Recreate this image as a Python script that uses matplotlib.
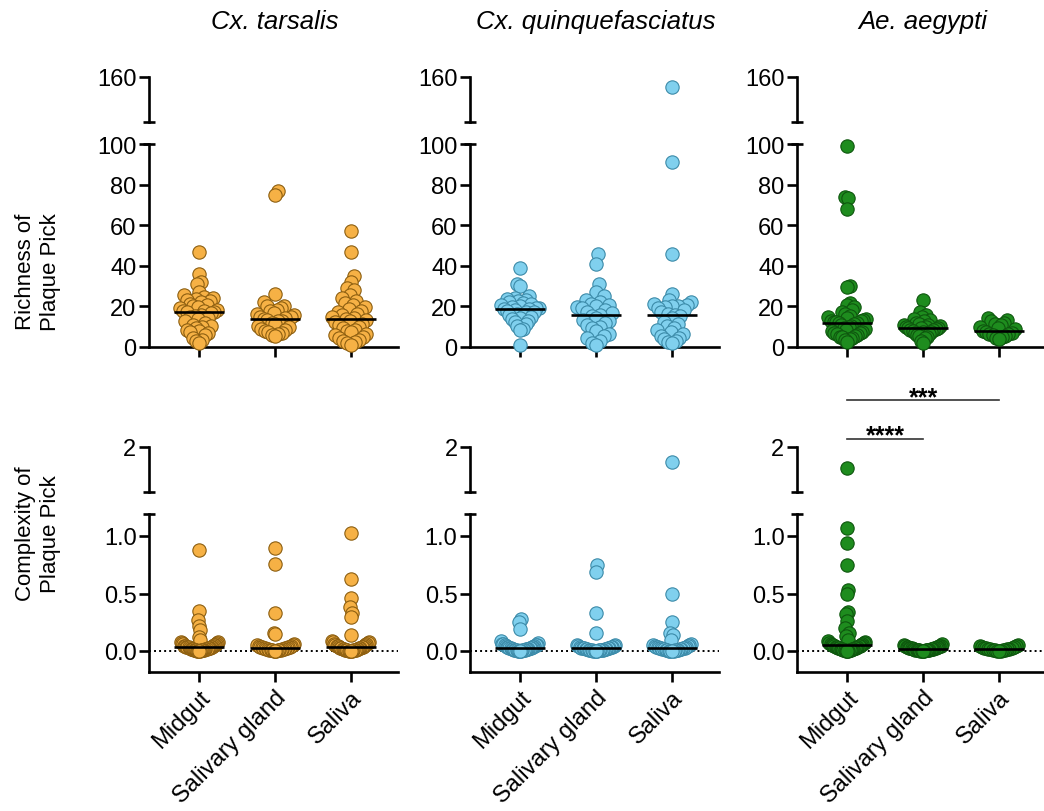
import numpy as np
import matplotlib
matplotlib.use('Agg')
import matplotlib.pyplot as plt
from matplotlib.transforms import blended_transform_factory

plt.rcParams['font.family'] = ['Liberation Sans', 'DejaVu Sans']

categories = ['Midgut', 'Salivary gland', 'Saliva']
species = ['Cx. tarsalis', 'Cx. quinquefasciatus', 'Ae. aegypti']
fill_colors = ['#F6B145', '#80D0EE', '#1E8C1E']
edge_colors = ['#8C5E10', '#3B8AA8', '#0E560E']

# ---------------- data ----------------
tarsalis_midgut_rich = [47.0, 36.0, 31.9, 30.8, 27.0, 25.5, 24.6, 24.0, 23.5, 23.0, 22.6, 22.0, 21.2, 20.5,
                        20.1, 19.6, 19.0, 18.4, 17.8, 17.5, 17.2, 17.0, 16.6, 16.0, 15.4, 14.8, 14.1, 13.6,
                        12.8, 12.0, 11.0, 10.2, 9.8, 9.2, 8.3, 7.9, 7.5, 6.8, 5.8, 4.6, 3.4, 2.9, 2.0]
tarsalis_sg_rich = [77.0, 75.0, 26.0, 22.0, 20.3, 20.0, 19.0, 18.2, 17.5, 16.8, 16.1, 15.6, 15.0, 14.8, 14.5,
                    14.0, 13.4, 13.0, 12.6, 12.0, 11.2, 10.5, 9.8, 9.0, 8.4, 8.0, 7.6, 7.0, 6.4, 5.9, 5.2]
tarsalis_saliva_rich = [57.0, 47.0, 35.0, 32.0, 29.0, 28.0, 25.5, 24.0, 22.5, 21.5, 20.5, 19.5, 18.6, 17.8,
                        17.0, 16.3, 15.6, 15.0, 14.5, 14.0, 13.5, 12.9, 12.2, 11.5, 10.8, 10.0, 9.3, 8.6, 7.9,
                        7.2, 6.5, 5.8, 5.0, 4.3, 3.6, 3.0, 2.4, 1.8, 1.2]
quinq_midgut_rich = [39.0, 31.0, 30.0, 25.0, 24.3, 23.8, 23.2, 22.6, 22.0, 21.5, 21.0, 20.5, 20.1, 19.7, 19.3,
                     19.0, 18.8, 18.5, 18.2, 17.8, 17.4, 17.0, 16.5, 16.0, 15.5, 14.8, 14.2, 13.6, 13.0, 12.2,
                     11.3, 10.2, 9.0, 8.2, 1.0]
quinq_sg_rich = [46.0, 41.0, 31.0, 27.0, 25.0, 23.0, 22.0, 21.3, 20.8, 20.3, 19.7, 19.0, 18.2, 17.4, 16.6,
                 16.0, 15.2, 14.4, 13.5, 12.6, 11.7, 10.8, 10.0, 9.2, 8.0, 6.5, 5.5, 4.2, 3.0, 2.0, 1.0]
quinq_saliva_rich = [155.0, 91.0, 46.0, 26.0, 23.0, 22.0, 21.3, 20.8, 20.3, 20.0, 19.6, 19.0, 18.0, 17.2, 16.5,
                     16.0, 15.3, 14.2, 12.5, 11.2, 10.3, 9.6, 8.2, 7.3, 6.2, 5.4, 4.6, 3.8, 3.0, 2.4, 1.8]
aegypti_midgut_rich = [99.0, 74.0, 73.5, 68.0, 30.2, 29.8, 21.5, 20.5, 19.5, 18.2, 17.0, 16.2, 15.4, 14.8, 14.2,
                       13.8, 13.4, 13.0, 12.7, 12.4, 12.2, 12.0, 11.6, 11.2, 10.7, 10.2, 9.7, 9.2, 8.7, 8.3,
                       7.9, 7.5, 7.1, 6.7, 6.3, 5.9, 5.5, 5.1, 4.7, 4.3, 3.8, 3.3, 2.6]
aegypti_sg_rich = [23.0, 17.0, 16.0, 15.0, 14.0, 13.3, 12.6, 12.0, 11.5, 11.0, 10.6, 10.3, 10.0, 9.8, 9.6, 9.5,
                   9.2, 8.9, 8.6, 8.3, 8.0, 7.6, 7.2, 6.8, 6.4, 6.0, 5.5, 5.0, 4.2, 3.0, 1.8]
aegypti_saliva_rich = [14.2, 13.3, 12.8, 12.0, 11.5, 10.8, 10.0, 9.4, 8.7, 8.0, 7.4, 7.0, 6.6, 6.2, 5.8, 5.4,
                       5.0, 4.5, 4.0]

tarsalis_midgut_comp = [0.88, 0.35, 0.27, 0.22, 0.18, 0.12, 0.095, 0.082, 0.078, 0.071, 0.066, 0.064, 0.058,
                        0.052, 0.051, 0.047, 0.044, 0.041, 0.039, 0.037, 0.034, 0.033, 0.031, 0.028, 0.027,
                        0.025, 0.022, 0.021, 0.019, 0.017, 0.016, 0.014, 0.013, 0.011, 0.010, 0.008, 0.007,
                        0.006, 0.005, 0.004, 0.003, 0.002, 0.001]
tarsalis_sg_comp = [0.90, 0.76, 0.33, 0.16, 0.15, 0.062, 0.055, 0.049, 0.046, 0.042, 0.039, 0.036, 0.033,
                    0.031, 0.028, 0.026, 0.024, 0.022, 0.020, 0.018, 0.016, 0.015, 0.013, 0.011, 0.010, 0.008,
                    0.006, 0.005, 0.003, 0.002, 0.001]
tarsalis_saliva_comp = [1.03, 0.63, 0.46, 0.38, 0.33, 0.30, 0.14, 0.09, 0.081, 0.074, 0.068, 0.063, 0.059,
                        0.054, 0.050, 0.047, 0.044, 0.041, 0.038, 0.035, 0.032, 0.030, 0.027, 0.025, 0.023,
                        0.021, 0.019, 0.017, 0.015, 0.013, 0.011, 0.009, 0.008, 0.006, 0.005, 0.004, 0.003,
                        0.002, 0.001]
quinq_midgut_comp = [0.28, 0.25, 0.19, 0.083, 0.072, 0.064, 0.060, 0.055, 0.051, 0.048, 0.044, 0.042, 0.039,
                     0.036, 0.034, 0.031, 0.029, 0.027, 0.025, 0.023, 0.021, 0.019, 0.017, 0.015, 0.014, 0.012,
                     0.010, 0.009, 0.007, 0.006, 0.005, 0.004, 0.003, 0.002, 0.001]
quinq_sg_comp = [0.75, 0.69, 0.33, 0.16, 0.055, 0.050, 0.045, 0.042, 0.038, 0.035, 0.032, 0.030, 0.028, 0.026,
                 0.024, 0.022, 0.020, 0.018, 0.016, 0.015, 0.013, 0.012, 0.010, 0.009, 0.007, 0.006, 0.005,
                 0.004, 0.003, 0.002, 0.001]
quinq_saliva_comp = [1.87, 0.50, 0.25, 0.16, 0.14, 0.10, 0.062, 0.054, 0.049, 0.045, 0.041, 0.037, 0.034,
                     0.031, 0.029, 0.026, 0.024, 0.022, 0.020, 0.018, 0.016, 0.014, 0.012, 0.011, 0.009, 0.007,
                     0.006, 0.004, 0.003, 0.002, 0.001]
aegypti_midgut_comp = [1.82, 1.07, 0.94, 0.75, 0.53, 0.50, 0.34, 0.32, 0.26, 0.20, 0.16, 0.13, 0.10, 0.085,
                       0.079, 0.073, 0.068, 0.064, 0.060, 0.056, 0.052, 0.049, 0.046, 0.043, 0.040, 0.037,
                       0.035, 0.032, 0.030, 0.027, 0.025, 0.022, 0.020, 0.018, 0.016, 0.014, 0.012, 0.010,
                       0.008, 0.006, 0.004, 0.002, 0.001]
aegypti_sg_comp = [0.060, 0.052, 0.047, 0.043, 0.040, 0.037, 0.035, 0.033, 0.031, 0.029, 0.027, 0.025, 0.023,
                   0.022, 0.020, 0.019, 0.017, 0.016, 0.014, 0.013, 0.012, 0.010, 0.009, 0.008, 0.007, 0.006,
                   0.005, 0.004, 0.003, 0.002, 0.001]
aegypti_saliva_comp = [0.052, 0.045, 0.040, 0.036, 0.032, 0.029, 0.026, 0.023, 0.020, 0.018, 0.016, 0.014,
                       0.012, 0.010, 0.008, 0.006, 0.004, 0.003, 0.001]

richness = [[tarsalis_midgut_rich, tarsalis_sg_rich, tarsalis_saliva_rich],
            [quinq_midgut_rich, quinq_sg_rich, quinq_saliva_rich],
            [aegypti_midgut_rich, aegypti_sg_rich, aegypti_saliva_rich]]
complexity = [[tarsalis_midgut_comp, tarsalis_sg_comp, tarsalis_saliva_comp],
              [quinq_midgut_comp, quinq_sg_comp, quinq_saliva_comp],
              [aegypti_midgut_comp, aegypti_sg_comp, aegypti_saliva_comp]]
row_labels = ['Richness of\nPlaque Pick', 'Complexity of\nPlaque Pick']
sig_labels = ['***', '****']

# ---------------- layout ----------------
W, H = 1044, 812
fig = plt.figure(figsize=(W / 100, H / 100), dpi=100)

def rect(x0, y0, x1, y1):
    return [x0 / W, 1 - y1 / H, (x1 - x0) / W, (y1 - y0) / H]

spine_x = [149, 470, 797]
ax_w = 249
xlim = (-0.66, 2.62)
LW = 1.9
TICK_FS = 17

rows = [
    dict(top=(78, 123), top_lim=(160 - 45 / 2.03, 160), top_ticks=[160],
         bot=(145, 348), bot_lim=(0, 100), bot_ticks=[0, 20, 40, 60, 80, 100], fmt='{:.0f}',
         data=richness),
    dict(top=(448, 493), top_lim=(2 - 45 / 115, 2), top_ticks=[2],
         bot=(515, 673), bot_lim=(-21 / 115, 137 / 115), bot_ticks=[0, 0.5, 1.0], fmt='{:.1f}',
         data=complexity),
]


def swarm(ypx, d=12.0, maxw=19.0):
    """Classic beeswarm offsets (pixels), then squeezed to fit the allowed half width."""
    ypx = np.asarray(ypx, float)
    offs = np.zeros(len(ypx))
    px, py = [], []
    for k, i in enumerate(np.argsort(ypx, kind='stable')):
        y = ypx[i]
        chosen = 0.0
        if px:
            ax_ = np.array(px)
            ay_ = np.array(py)
            near = np.abs(ay_ - y) < d
            if near.any():
                nx, ny = ax_[near], ay_[near]
                dx = np.sqrt(np.maximum(d ** 2 - (ny - y) ** 2, 0))
                cands = np.concatenate([[0.0], nx + dx, nx - dx])
                sgn = 1 if k % 2 == 0 else -1
                order = np.lexsort((-sgn * cands, np.round(np.abs(cands), 3)))
                for j in order:
                    cx = cands[j]
                    if np.all(np.hypot(cx - nx, y - ny) >= d - 1e-6):
                        chosen = cx
                        break
        offs[i] = chosen
        px.append(chosen)
        py.append(y)
    m = np.abs(offs).max()
    if m > maxw:
        offs = offs * (maxw / m)
    return offs


def cap(ax, yfrac, half_px=6):
    dxf = half_px / ax_w
    ax.plot([-dxf, dxf], [yfrac, yfrac], color='black', lw=LW, transform=ax.transAxes,
            clip_on=False, solid_capstyle='butt', zorder=4)


panels = {}
for r, row in enumerate(rows):
    for c in range(3):
        x0 = spine_x[c]
        axt = fig.add_axes(rect(x0, row['top'][0], x0 + ax_w, row['top'][1]))
        axb = fig.add_axes(rect(x0, row['bot'][0], x0 + ax_w, row['bot'][1]))
        for ax in (axt, axb):
            ax.set_xlim(*xlim)
            ax.patch.set_alpha(0)
            for s in ('top', 'right'):
                ax.spines[s].set_visible(False)
            ax.spines['left'].set_linewidth(LW)
            ax.spines['bottom'].set_linewidth(LW)
            ax.tick_params(axis='y', length=7, width=LW, labelsize=TICK_FS, pad=2)
        axt.set_ylim(*row['top_lim'])
        axb.set_ylim(*row['bot_lim'])
        axt.spines['bottom'].set_visible(False)
        axt.set_xticks([])
        axt.set_yticks(row['top_ticks'])
        axt.set_yticklabels(['{:g}'.format(t) for t in row['top_ticks']])
        axb.set_yticks(row['bot_ticks'])
        axb.set_yticklabels([row['fmt'].format(t) for t in row['bot_ticks']])
        axb.set_xticks(range(3))
        axb.tick_params(axis='x', length=7, width=LW, labelsize=TICK_FS, pad=3)
        if r == 1:
            axb.set_xticklabels(categories, rotation=45, ha='right', rotation_mode='anchor')
        else:
            axb.set_xticklabels([])
        cap(axt, 0.0)
        cap(axb, 1.0)
        if r == 1:
            axb.axhline(0, color='black', lw=1.4, ls=(0, (1, 1.6)), zorder=1)

        top_lo = row['top_lim'][0]
        for g in range(3):
            vals = np.asarray(row['data'][c][g], float)
            for ax, mask in ((axb, vals < top_lo), (axt, vals >= top_lo)):
                v = vals[mask]
                if len(v) == 0:
                    continue
                pts = ax.transData.transform(np.column_stack([np.full(len(v), g), v]))
                offs_px = swarm(pts[:, 1])
                x_per_px = 1.0 / (ax.transData.transform([[1, 0]])[0, 0] - ax.transData.transform([[0, 0]])[0, 0])
                ax.scatter(g + offs_px * x_per_px, v, s=92, color=fill_colors[c],
                           edgecolors=edge_colors[c], linewidths=0.8, zorder=3, clip_on=False)
            med = np.median(vals)
            axb.plot([g - 0.33, g + 0.33], [med, med], color='black', lw=1.9, zorder=5,
                     solid_capstyle='butt', clip_on=False)
        panels[(r, c)] = (axt, axb)

# titles
for c, sp in enumerate(species):
    axb = panels[(0, c)][1]
    tr = blended_transform_factory(axb.transData, fig.transFigure)
    fig.text(1, 1 - 22 / H, sp, transform=tr, ha='center', va='center',
             fontsize=18.5, style='italic')

# row labels
fig.text(38 / W, 1 - 272 / H, row_labels[0], rotation=90, ha='center', va='center',
         fontsize=16, linespacing=1.3, multialignment='center')
fig.text(38 / W, 1 - 534 / H, row_labels[1], rotation=90, ha='center', va='center',
         fontsize=16, linespacing=1.3, multialignment='center')

# significance bars (Ae. aegypti complexity)
axs = panels[(1, 2)][1]
trs = blended_transform_factory(axs.transData, fig.transFigure)
fig.add_artist(plt.Line2D([0, 2], [1 - 401 / H, 1 - 401 / H], transform=trs, color='#333333', lw=1.2))
fig.add_artist(plt.Line2D([0, 1], [1 - 440 / H, 1 - 440 / H], transform=trs, color='#333333', lw=1.2))
fig.text(1, 1 - 405 / H, sig_labels[0], transform=trs, ha='center', va='baseline',
         fontsize=18, fontweight='bold')
fig.text(0.5, 1 - 443 / H, sig_labels[1], transform=trs, ha='center', va='baseline',
         fontsize=18, fontweight='bold')

fig.savefig('out.png', dpi=100)
